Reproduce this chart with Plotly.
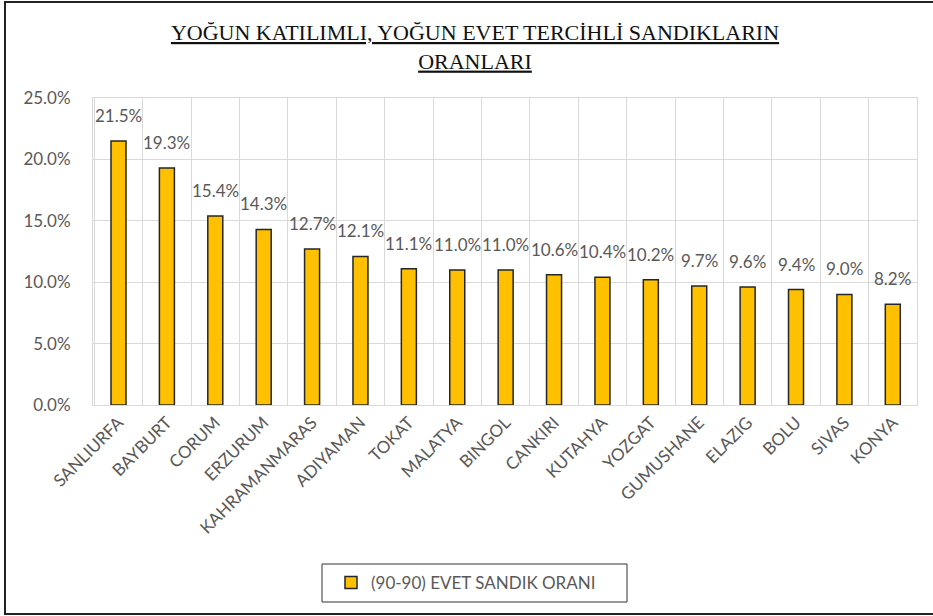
import plotly.graph_objects as go

categories = ["SANLIURFA", "BAYBURT", "CORUM", "ERZURUM", "KAHRAMANMARAS", "ADIYAMAN",
              "TOKAT", "MALATYA", "BINGOL", "CANKIRI", "KUTAHYA", "YOZGAT", "GUMUSHANE",
              "ELAZIG", "BOLU", "SIVAS", "KONYA"]
values = [0.215, 0.193, 0.154, 0.143, 0.127, 0.121, 0.111, 0.110, 0.110, 0.106,
          0.104, 0.102, 0.097, 0.096, 0.094, 0.090, 0.082]
series_name = "(90-90) EVET SANDIK ORANI"
title_text = "YOĞUN KATILIMLI, YOĞUN EVET TERCİHLİ SANDIKLARIN<br>ORANLARI"

W, H = 933, 616
L, R, T, B = 93, 917, 98, 405
pw, ph = R - L, B - T

def px(x):
    return (x - L) / pw

def py(y):
    return (B - y) / ph

GRAY = "#595959"
GRID = "#d9d9d9"
FONT = "Lato, 'Open Sans', sans-serif"

fig = go.Figure()
fig.add_trace(go.Bar(
    x=categories, y=values, name=series_name,
    marker=dict(color="#FFC000", line=dict(color="#262626", width=1.5)),
    showlegend=True,
))

for c, v in zip(categories, values):
    fig.add_annotation(x=c, y=v, text=f"{v*100:.1f}%", showarrow=False,
                       yanchor="bottom", yshift=13,
                       font=dict(family=FONT, size=17, color=GRAY))

# chart outer frame
fig.add_shape(type="rect", xref="paper", yref="paper",
              x0=px(5), x1=px(935), y0=py(614), y1=py(2),
              line=dict(color="#222222", width=2), layer="below")
# legend frame
fig.add_shape(type="rect", xref="paper", yref="paper",
              x0=px(322), x1=px(627), y0=py(602), y1=py(564),
              line=dict(color="#333333", width=1))

fig.update_layout(
    width=W, height=H,
    margin=dict(l=L, r=W - R, t=T, b=H - B, pad=0),
    paper_bgcolor="white", plot_bgcolor="white",
    bargap=0.69,
    title=dict(text=f"<u>{title_text}</u>", x=px(475), xref="paper", xanchor="center",
               y=1 - 40 / H, yanchor="middle",
               font=dict(family="'Liberation Serif', 'Times New Roman', serif", size=22, color="#111111")),
    showlegend=True,
    legend=dict(x=px(331), y=py(583), xanchor="left", yanchor="middle",
                bgcolor="rgba(0,0,0,0)", borderwidth=0,
                font=dict(family=FONT, size=17, color=GRAY),
                itemwidth=30),
    xaxis=dict(type="category", tickangle=-45, tickson="boundaries",
               showgrid=True, gridcolor=GRID, gridwidth=1, automargin=False,
               ticks="outside", ticklen=6, tickcolor="rgba(0,0,0,0)",
               showline=True, linecolor=GRID, mirror=True,
               tickfont=dict(family=FONT, size=17, color=GRAY)),
    yaxis=dict(range=[0, 0.25], dtick=0.05, tickformat=".1%", automargin=False,
               showgrid=True, gridcolor=GRID, gridwidth=1,
               zeroline=False, showline=True, linecolor=GRID, mirror=True,
               ticks="outside", ticklen=18, tickcolor="rgba(0,0,0,0)",
               tickfont=dict(family=FONT, size=17, color=GRAY)),
)

fig.write_html("out.html", config={"displayModeBar": False},
               post_script="document.body.style.margin='0';document.body.style.overflow='hidden';")
